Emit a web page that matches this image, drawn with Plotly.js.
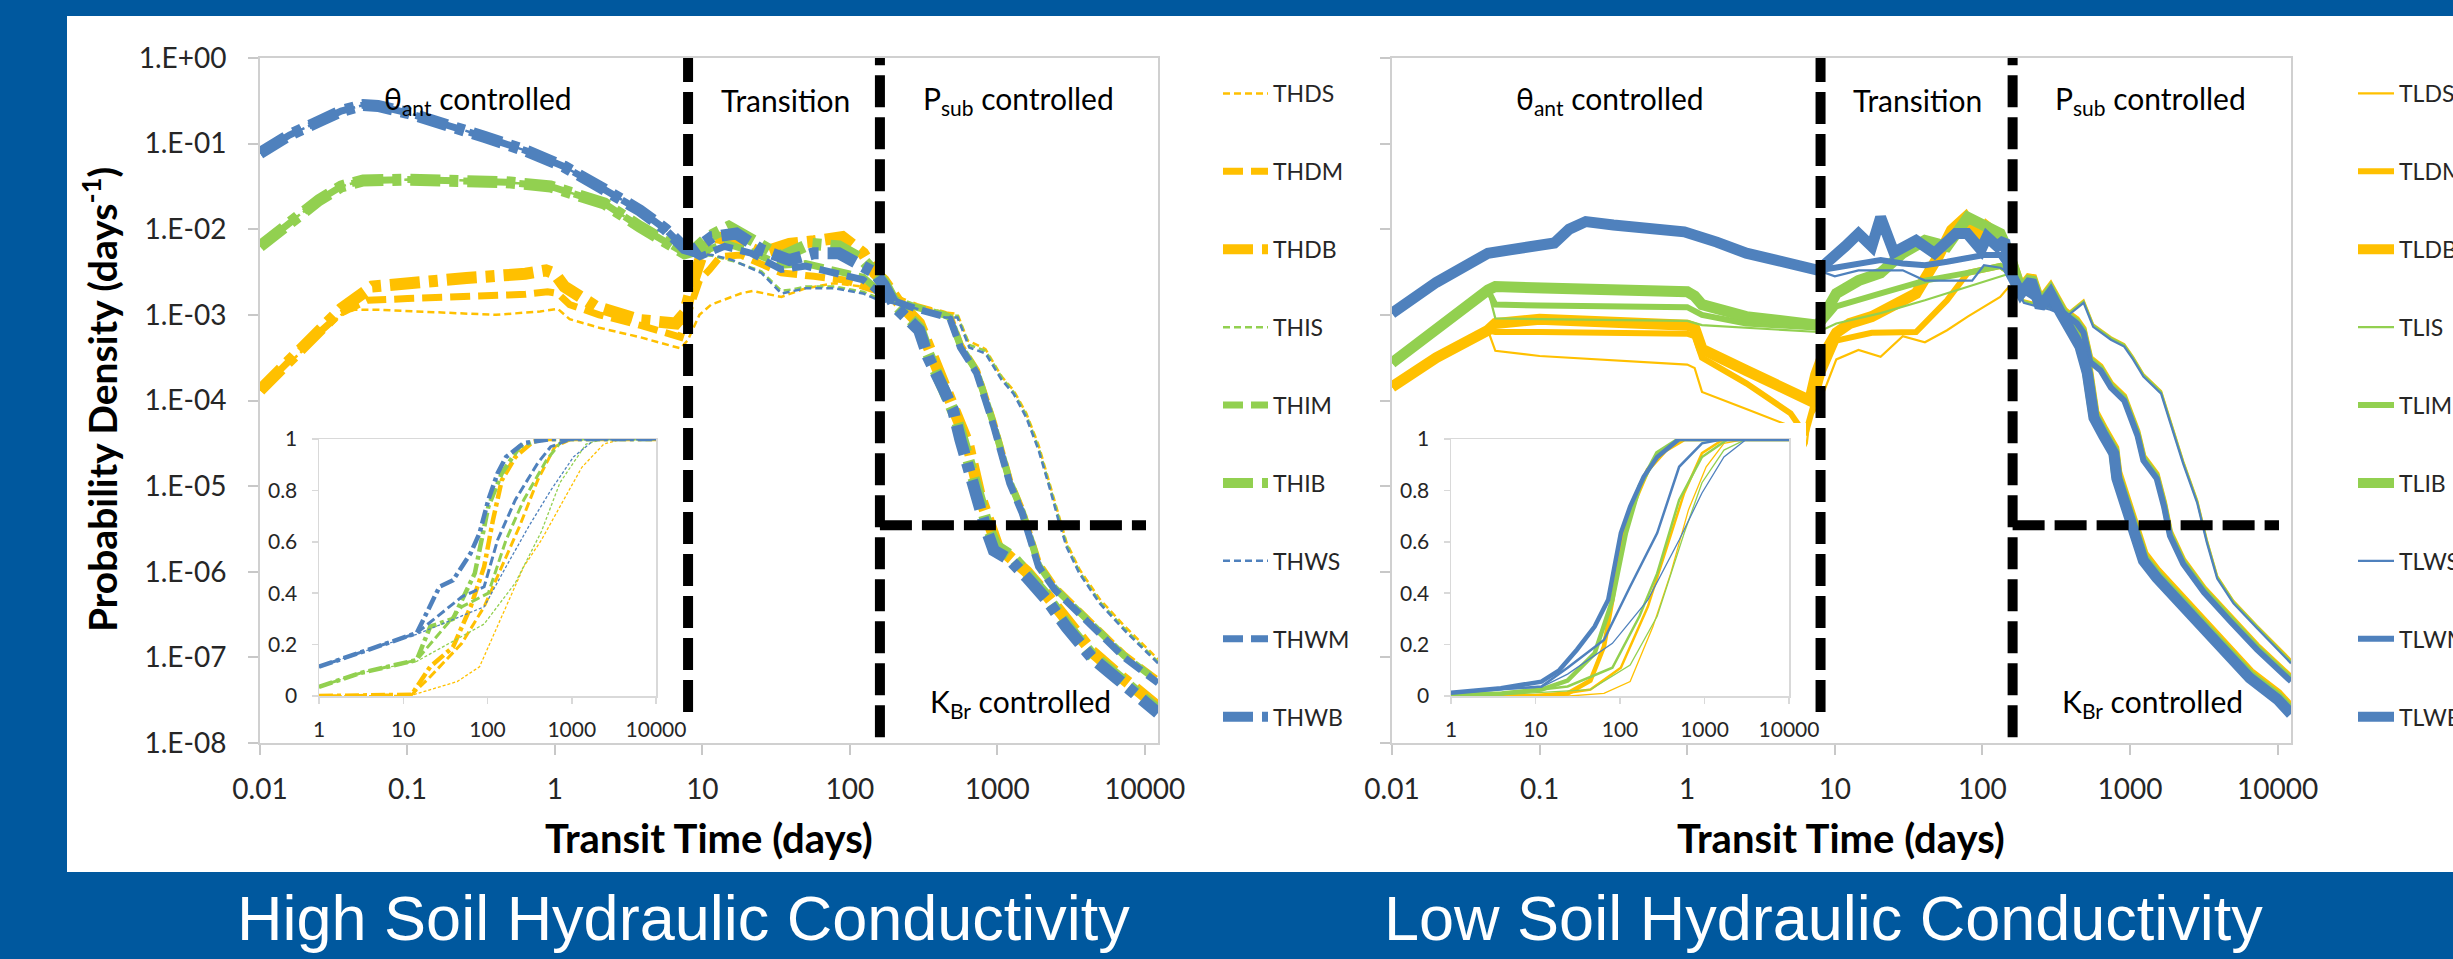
<!DOCTYPE html>
<html><head><meta charset="utf-8">
<script src="https://cdn.plot.ly/plotly-3.0.1.min.js"></script>
<style>html,body{margin:0;padding:0;background:#00589e;}#chart{width:2453px;height:959px;}</style>
</head><body><div id="chart"></div>
<script>
// ---------- DATA : [log10(transit time, days), log10(probability density, 1/days)] ----------
// High soil hydraulic conductivity (left panel)
const HW_theta = [[-2,-1.11],[-1.8,-0.90],[-1.6,-0.74],[-1.45,-0.62],[-1.3,-0.55],[-1.2,-0.56],[-1.0,-0.64],[-0.8,-0.74],[-0.48,-0.92],[-0.2,-1.08],[0.064,-1.27],[0.3,-1.5],[0.576,-1.78],[0.75,-2.0],[0.88,-2.22]];
const HI_theta = [[-2,-2.2],[-1.8,-1.92],[-1.6,-1.66],[-1.45,-1.5],[-1.3,-1.43],[-1.0,-1.42],[-0.6,-1.43],[-0.33,-1.45],[-0.03,-1.5],[0.336,-1.7],[0.576,-1.97],[0.88,-2.28]];
const THDS = [[-2,-3.88],[-1.7,-3.40],[-1.45,-3.0],[-1.36,-2.94],[-1.2,-2.94],[-0.8,-2.97],[-0.4,-3.0],[-0.1,-2.96],[0.02,-2.93],[0.1,-3.05],[0.3,-3.15],[0.576,-3.26],[0.85,-3.39],[0.9,-3.3],[0.98,-3.0],[1.06,-2.88],[1.15,-2.82],[1.26,-2.75],[1.34,-2.72],[1.45,-2.76],[1.536,-2.79],[1.70,-2.69],[1.896,-2.63],[2.09,-2.67],[2.2,-2.75],[2.3,-2.82],[2.45,-2.9],[2.645,-2.97],[2.73,-2.99],[2.8,-3.3],[2.92,-3.4],[3.03,-3.72],[3.11,-3.88],[3.197,-4.15],[3.28,-4.52],[3.36,-5.0],[3.42,-5.38],[3.47,-5.66],[3.557,-5.97],[3.695,-6.32],[3.86,-6.63],[4.09,-7.02]];
const THDM = [[-2,-3.88],[-1.7,-3.36],[-1.45,-2.98],[-1.27,-2.83],[-1.0,-2.81],[-0.6,-2.79],[-0.2,-2.76],[-0.05,-2.73],[0.02,-2.75],[0.1,-2.88],[0.3,-3.0],[0.576,-3.12],[0.85,-3.26],[0.92,-2.9],[0.98,-2.6],[1.05,-2.47],[1.12,-2.32],[1.26,-2.3],[1.4,-2.4],[1.536,-2.51],[1.756,-2.55],[1.95,-2.59],[2.17,-2.71],[2.29,-2.8],[2.45,-2.9],[2.64,-2.99],[2.68,-3.02],[2.75,-3.35],[2.86,-3.65],[2.92,-3.97],[2.976,-4.27],[3.085,-4.94],[3.17,-5.29],[3.225,-5.6],[3.28,-5.9],[3.39,-6.18],[3.53,-6.42],[3.69,-6.69],[3.86,-6.97],[4.09,-7.27]];
const THDB = [[-2,-3.88],[-1.7,-3.36],[-1.45,-2.93],[-1.24,-2.67],[-1.0,-2.62],[-0.6,-2.57],[-0.2,-2.52],[-0.06,-2.48],[0.0,-2.52],[0.064,-2.67],[0.276,-2.9],[0.576,-3.06],[0.82,-3.1],[0.88,-2.98],[0.94,-2.59],[1.0,-2.28],[1.09,-2.09],[1.23,-2.14],[1.40,-2.28],[1.59,-2.17],[1.756,-2.14],[1.95,-2.09],[2.09,-2.28],[2.17,-2.51],[2.23,-2.6],[2.33,-2.85],[2.47,-3.1],[2.55,-3.45],[2.64,-3.8],[2.72,-4.1],[2.8,-4.5],[2.88,-5.1],[2.95,-5.5],[3.0,-5.7],[3.1,-5.85],[3.2,-6.0],[3.34,-6.28],[3.47,-6.58],[3.64,-6.93],[3.8,-7.17],[3.94,-7.37],[4.09,-7.58]];
const THIS = HI_theta.concat([[0.94,-2.29],[1.065,-2.31],[1.205,-2.37],[1.40,-2.49],[1.536,-2.72],[1.62,-2.7],[1.70,-2.67],[1.896,-2.67],[2.09,-2.73],[2.2,-2.81],[2.42,-2.89],[2.645,-3.01],[2.73,-3.01],[2.81,-3.35],[2.92,-3.42],[3.03,-3.73],[3.11,-3.9],[3.197,-4.17],[3.28,-4.55],[3.36,-5.02],[3.42,-5.4],[3.47,-5.68],[3.557,-6.0],[3.695,-6.35],[3.86,-6.66],[4.09,-7.05]]);
const THIM = HI_theta.concat([[0.983,-2.28],[1.15,-2.16],[1.33,-2.26],[1.536,-2.42],[1.70,-2.4],[1.896,-2.47],[2.09,-2.56],[2.17,-2.68],[2.2,-2.73],[2.29,-2.81],[2.45,-2.91],[2.64,-3.0],[2.68,-3.03],[2.75,-3.36],[2.86,-3.66],[2.92,-3.98],[2.976,-4.28],[3.085,-4.95],[3.17,-5.3],[3.225,-5.61],[3.28,-5.92],[3.39,-6.19],[3.53,-6.43],[3.69,-6.7],[3.86,-6.98],[4.09,-7.28]]);
const THIB = HI_theta.concat([[0.94,-2.25],[1.04,-2.09],[1.18,-1.97],[1.34,-2.14],[1.536,-2.32],[1.73,-2.17],[1.925,-2.2],[2.09,-2.36],[2.17,-2.51],[2.23,-2.62],[2.31,-2.88],[2.47,-3.15],[2.53,-3.45],[2.64,-3.85],[2.72,-4.2],[2.78,-4.55],[2.87,-5.15],[2.93,-5.45],[2.99,-5.7],[3.1,-5.82],[3.2,-6.02],[3.34,-6.3],[3.47,-6.62],[3.64,-6.97],[3.8,-7.2],[3.94,-7.4],[4.09,-7.62]]);
const THWS = HW_theta.concat([[0.94,-2.28],[1.065,-2.30],[1.205,-2.36],[1.40,-2.51],[1.536,-2.75],[1.62,-2.72],[1.70,-2.69],[1.896,-2.69],[2.09,-2.75],[2.2,-2.83],[2.42,-2.91],[2.645,-3.03],[2.73,-3.03],[2.81,-3.38],[2.92,-3.45],[3.03,-3.76],[3.11,-3.92],[3.197,-4.2],[3.28,-4.58],[3.36,-5.05],[3.42,-5.43],[3.47,-5.71],[3.557,-6.02],[3.695,-6.37],[3.86,-6.68],[4.09,-7.07]]);
const THWM = HW_theta.concat([[0.983,-2.32],[1.15,-2.2],[1.33,-2.28],[1.536,-2.47],[1.70,-2.43],[1.896,-2.51],[2.09,-2.59],[2.17,-2.7],[2.2,-2.75],[2.29,-2.83],[2.45,-2.93],[2.64,-3.02],[2.68,-3.05],[2.75,-3.38],[2.86,-3.68],[2.92,-4.0],[2.976,-4.3],[3.085,-4.97],[3.17,-5.32],[3.225,-5.63],[3.28,-5.94],[3.39,-6.21],[3.53,-6.45],[3.69,-6.72],[3.86,-7.0],[4.09,-7.30]]);
const THWB = HW_theta.concat([[0.94,-2.25],[1.0,-2.15],[1.065,-2.09],[1.23,-2.05],[1.40,-2.24],[1.59,-2.36],[1.756,-2.28],[1.925,-2.28],[2.09,-2.44],[2.17,-2.51],[2.23,-2.65],[2.31,-2.91],[2.47,-3.18],[2.53,-3.49],[2.64,-3.88],[2.70,-4.11],[2.75,-4.46],[2.86,-5.16],[2.92,-5.48],[2.976,-5.75],[3.085,-5.86],[3.197,-6.06],[3.336,-6.33],[3.47,-6.65],[3.64,-7.0],[3.80,-7.23],[3.94,-7.42],[4.09,-7.65]]);

// Low soil hydraulic conductivity (right panel)
const LW_theta = [[-2,-2.98],[-1.7,-2.62],[-1.35,-2.28],[-1.1,-2.2],[-0.9,-2.16],[-0.8,-2.0],[-0.687,-1.91],[-0.5,-1.95],[-0.2,-2.0],[-0.02,-2.03],[0.2,-2.15],[0.4,-2.28],[0.6,-2.36],[0.887,-2.48]];
const LI_rise = [[-2,-3.56],[-1.7,-3.15],[-1.35,-2.71]];
const LD_rise = [[-2,-3.84],[-1.7,-3.5],[-1.35,-3.18]];
const TLDS = LD_rise.concat([[-1.3,-3.42],[-1.0,-3.48],[-0.5,-3.53],[0.0,-3.58],[0.05,-3.62],[0.1,-3.9],[0.4,-4.1],[0.7,-4.3],[0.78,-4.6],[0.81,-4.5],[0.83,-4.2],[0.887,-4.07],[1.01,-3.52],[1.16,-3.41],[1.31,-3.49],[1.46,-3.25],[1.61,-3.32],[1.76,-3.18],[1.9,-3.02],[2.01,-2.9],[2.12,-2.79],[2.18,-2.67],[2.28,-2.83],[2.46,-2.91],[2.57,-2.99],[2.685,-2.83],[2.75,-3.11],[2.87,-3.26],[2.96,-3.34],[3.02,-3.49],[3.09,-3.69],[3.21,-3.89],[3.27,-4.22],[3.36,-4.71],[3.455,-5.17],[3.52,-5.63],[3.59,-6.05],[3.70,-6.34],[3.86,-6.63],[4.09,-7.03]]);
const TLDM = LD_rise.concat([[-1.3,-3.2],[-1.0,-3.2],[-0.5,-3.21],[0.0,-3.22],[0.05,-3.25],[0.1,-3.5],[0.4,-3.8],[0.7,-4.15],[0.8,-4.4],[0.85,-4.1],[0.915,-3.68],[1.01,-3.3],[1.25,-3.21],[1.55,-3.2],[1.76,-2.83],[1.9,-2.51],[2.12,-2.43],[2.18,-2.5],[2.26,-2.66],[2.4,-2.81],[2.53,-2.91],[2.64,-3.05],[2.685,-3.16],[2.73,-3.5],[2.80,-3.6],[2.87,-3.8],[2.96,-3.95],[3.05,-4.36],[3.09,-4.65],[3.18,-4.86],[3.23,-5.19],[3.27,-5.53],[3.36,-5.86],[3.5,-6.19],[3.68,-6.53],[3.86,-6.86],[4.09,-7.23]]);
const TLDB = LD_rise.concat([[-1.3,-3.1],[-1.0,-3.05],[-0.5,-3.08],[0.0,-3.12],[0.05,-3.15],[0.1,-3.4],[0.4,-3.65],[0.83,-4.0],[0.87,-3.7],[0.915,-3.49],[1.01,-3.21],[1.10,-3.1],[1.25,-3.02],[1.40,-2.9],[1.55,-2.75],[1.70,-2.32],[1.79,-2.01],[1.885,-1.86],[1.98,-2.13],[2.03,-1.97],[2.12,-2.09],[2.18,-2.3],[2.26,-2.7],[2.33,-2.55],[2.39,-2.86],[2.46,-2.7],[2.53,-2.93],[2.6,-3.16],[2.66,-3.32],[2.71,-3.62],[2.755,-4.14],[2.82,-4.35],[2.89,-4.56],[2.91,-4.84],[2.96,-5.09],[3.0,-5.34],[3.05,-5.59],[3.09,-5.8],[3.18,-6.0],[3.32,-6.26],[3.455,-6.51],[3.63,-6.85],[3.81,-7.18],[3.998,-7.43],[4.09,-7.6]]);
const TLIS = LI_rise.concat([[-1.3,-3.04],[-1.0,-3.05],[-0.5,-3.06],[0.0,-3.07],[0.1,-3.12],[0.4,-3.15],[0.887,-3.2],[1.01,-3.1],[1.31,-2.98],[1.61,-2.83],[1.9,-2.67],[2.12,-2.55],[2.18,-2.52],[2.28,-2.84],[2.46,-2.92],[2.57,-3.0],[2.685,-2.84],[2.75,-3.12],[2.87,-3.27],[2.96,-3.35],[3.02,-3.5],[3.09,-3.7],[3.21,-3.9],[3.27,-4.23],[3.36,-4.72],[3.455,-5.18],[3.52,-5.64],[3.59,-6.06],[3.70,-6.35],[3.86,-6.64],[4.09,-7.05]]);
const TLIM = LI_rise.concat([[-1.3,-2.88],[-1.0,-2.89],[-0.5,-2.9],[0.0,-2.91],[0.1,-3.0],[0.4,-3.1],[0.887,-3.15],[1.01,-2.9],[1.31,-2.75],[1.61,-2.6],[1.9,-2.51],[2.12,-2.43],[2.18,-2.5],[2.26,-2.68],[2.4,-2.83],[2.53,-2.93],[2.64,-3.07],[2.685,-3.18],[2.73,-3.52],[2.80,-3.62],[2.87,-3.82],[2.96,-3.97],[3.05,-4.38],[3.09,-4.67],[3.18,-4.88],[3.23,-5.21],[3.27,-5.55],[3.36,-5.88],[3.5,-6.21],[3.68,-6.55],[3.86,-6.88],[4.09,-7.25]]);
const TLIB = LI_rise.concat([[-1.3,-2.67],[-1.0,-2.68],[-0.5,-2.7],[0.0,-2.73],[0.05,-2.78],[0.1,-2.88],[0.4,-3.02],[0.887,-3.12],[1.01,-2.75],[1.16,-2.6],[1.31,-2.51],[1.46,-2.28],[1.61,-2.13],[1.76,-2.2],[1.9,-1.86],[2.01,-1.97],[2.12,-2.05],[2.18,-2.28],[2.26,-2.72],[2.33,-2.57],[2.39,-2.88],[2.46,-2.72],[2.53,-2.95],[2.6,-3.18],[2.66,-3.34],[2.71,-3.65],[2.755,-4.17],[2.82,-4.38],[2.89,-4.59],[2.91,-4.88],[2.96,-5.13],[3.0,-5.38],[3.05,-5.63],[3.09,-5.84],[3.18,-6.04],[3.32,-6.3],[3.455,-6.55],[3.63,-6.88],[3.81,-7.21],[3.998,-7.46],[4.09,-7.63]]);
const TLWS = LW_theta.concat([[1.0,-2.55],[1.16,-2.48],[1.46,-2.48],[1.61,-2.6],[1.93,-2.6],[2.01,-2.42],[2.12,-2.45],[2.18,-2.5],[2.28,-2.86],[2.46,-2.94],[2.57,-3.02],[2.685,-2.86],[2.75,-3.14],[2.87,-3.29],[2.96,-3.37],[3.02,-3.52],[3.09,-3.72],[3.21,-3.92],[3.27,-4.25],[3.36,-4.74],[3.455,-5.2],[3.52,-5.66],[3.59,-6.08],[3.70,-6.37],[3.86,-6.66],[4.09,-7.07]]);
const TLWM = LW_theta.concat([[1.0,-2.45],[1.16,-2.4],[1.31,-2.36],[1.46,-2.4],[1.61,-2.42],[1.76,-2.38],[1.9,-2.33],[2.01,-2.3],[2.12,-2.3],[2.18,-2.45],[2.26,-2.7],[2.4,-2.85],[2.53,-2.95],[2.64,-3.1],[2.685,-3.21],[2.73,-3.55],[2.80,-3.65],[2.87,-3.85],[2.96,-4.0],[3.05,-4.41],[3.09,-4.7],[3.18,-4.91],[3.23,-5.24],[3.27,-5.58],[3.36,-5.91],[3.5,-6.24],[3.68,-6.58],[3.86,-6.91],[4.09,-7.28]]);
const TLWB = LW_theta.concat([[1.07,-2.2],[1.16,-2.05],[1.25,-2.2],[1.31,-1.86],[1.40,-2.27],[1.55,-2.13],[1.675,-2.28],[1.82,-2.05],[1.896,-2.05],[1.99,-2.24],[2.03,-2.09],[2.10,-2.2],[2.15,-2.13],[2.18,-2.48],[2.26,-2.75],[2.33,-2.6],[2.39,-2.91],[2.46,-2.75],[2.53,-2.98],[2.60,-3.21],[2.66,-3.37],[2.71,-3.68],[2.755,-4.2],[2.82,-4.41],[2.89,-4.62],[2.91,-4.91],[2.96,-5.16],[3.0,-5.41],[3.05,-5.66],[3.09,-5.87],[3.18,-6.07],[3.32,-6.33],[3.455,-6.58],[3.63,-6.91],[3.81,-7.24],[3.998,-7.49],[4.09,-7.66]]);

// Inset CDFs: [log10(transit time, days), cumulative fraction]
const cTHDS = [[0,0],[1.1,0.003],[1.64,0.056],[1.906,0.114],[2.17,0.31],[2.43,0.503],[2.64,0.607],[2.86,0.737],[3.12,0.89],[3.38,0.98],[3.6,1.0],[4,1.0]];
const cTHDM = [[0,0],[1.1,0.005],[1.32,0.075],[1.695,0.205],[1.96,0.347],[2.17,0.503],[2.38,0.66],[2.596,0.84],[2.8,0.97],[3.0,1.0],[4,1.0]];
const cTHDB = [[0,0],[1.1,0.005],[1.32,0.114],[1.59,0.19],[1.80,0.347],[1.96,0.503],[2.065,0.685],[2.17,0.84],[2.33,0.93],[2.54,0.99],[2.7,1.0],[4,1.0]];
const cTHIS = [[0,0.036],[0.5,0.09],[1.16,0.135],[1.695,0.23],[1.96,0.28],[2.33,0.44],[2.64,0.64],[2.86,0.83],[3.17,0.98],[3.38,1.0],[4,1.0]];
const cTHIM = [[0,0.036],[0.5,0.09],[1.16,0.14],[1.695,0.347],[2.01,0.40],[2.22,0.607],[2.43,0.763],[2.70,0.918],[2.9,1.0],[4,1.0]];
const cTHIB = [[0,0.036],[0.5,0.09],[1.16,0.14],[1.32,0.27],[1.59,0.30],[1.85,0.478],[2.01,0.737],[2.17,0.867],[2.38,0.97],[2.64,1.0],[4,1.0]];
const cTHWS = [[0,0.114],[0.5,0.17],[1.16,0.24],[1.96,0.347],[2.22,0.503],[2.49,0.66],[2.75,0.80],[3.02,0.93],[3.28,1.0],[4,1.0]];
const cTHWM = [[0,0.114],[0.5,0.17],[1.16,0.245],[1.695,0.386],[1.96,0.425],[2.12,0.607],[2.33,0.763],[2.596,0.906],[2.75,0.97],[3.0,1.0],[4,1.0]];
const cTHWB = [[0,0.114],[0.5,0.17],[1.16,0.245],[1.43,0.425],[1.59,0.45],[1.80,0.556],[1.906,0.634],[2.01,0.763],[2.12,0.867],[2.22,0.93],[2.43,0.984],[2.75,1.0],[4,1.0]];
const cTLDS = [[0,0],[1.4,0.0],[1.81,0.01],[2.12,0.056],[2.39,0.27],[2.6,0.477],[2.81,0.724],[3.02,0.892],[3.23,0.983],[3.5,1.0],[4,1.0]];
const cTLDM = [[0,0],[1.2,0.003],[1.65,0.025],[2.01,0.11],[2.33,0.348],[2.54,0.568],[2.76,0.79],[2.97,0.945],[3.23,1.0],[4,1.0]];
const cTLDB = [[0,0],[1.0,0.0],[1.38,0.01],[1.65,0.06],[1.81,0.192],[1.91,0.374],[2.01,0.594],[2.18,0.763],[2.33,0.88],[2.54,0.957],[2.76,1.0],[4,1.0]];
const cTLIS = [[0,0.003],[0.6,0.005],[1.65,0.025],[2.12,0.12],[2.44,0.31],[2.76,0.634],[2.97,0.83],[3.23,0.957],[3.5,1.0],[4,1.0]];
const cTLIM = [[0,0.005],[0.6,0.008],[1.38,0.037],[1.91,0.11],[2.23,0.31],[2.44,0.477],[2.70,0.763],[2.97,0.93],[3.28,1.0],[4,1.0]];
const cTLIB = [[0,0.005],[0.6,0.01],[1.07,0.025],[1.38,0.06],[1.70,0.166],[1.91,0.374],[2.07,0.634],[2.23,0.815],[2.44,0.945],[2.70,1.0],[4,1.0]];
const cTLWS = [[0,0.013],[0.59,0.025],[1.07,0.035],[1.38,0.085],[1.91,0.205],[2.33,0.374],[2.70,0.607],[2.97,0.79],[3.23,0.93],[3.5,1.0],[4,1.0]];
const cTLWM = [[0,0.013],[0.59,0.025],[1.07,0.037],[1.38,0.11],[1.81,0.218],[2.12,0.426],[2.44,0.634],[2.70,0.892],[2.97,0.983],[3.23,1.0],[4,1.0]];
const cTLWB = [[0,0.013],[0.59,0.03],[1.07,0.056],[1.28,0.10],[1.49,0.18],[1.70,0.27],[1.86,0.374],[2.01,0.634],[2.12,0.737],[2.28,0.853],[2.44,0.93],[2.70,1.0],[4,1.0]];

const HIGH_NAMES = ['THDS','THDM','THDB','THIS','THIM','THIB','THWS','THWM','THWB'];
const LOW_NAMES  = ['TLDS','TLDM','TLDB','TLIS','TLIM','TLIB','TLWS','TLWM','TLWB'];
const HIGH_PDF = [THDS,THDM,THDB,THIS,THIM,THIB,THWS,THWM,THWB];
const LOW_PDF  = [TLDS,TLDM,TLDB,TLIS,TLIM,TLIB,TLWS,TLWM,TLWB];
const HIGH_CDF = [cTHDS,cTHDM,cTHDB,cTHIS,cTHIM,cTHIB,cTHWS,cTHWM,cTHWB];
const LOW_CDF  = [cTLDS,cTLDM,cTLDB,cTLIS,cTLIM,cTLIB,cTLWS,cTLWM,cTLWB];

const X_TICKS = [0.01,0.1,1,10,100,1000,10000];
const X_TICKTEXT = ['0.01','0.1','1','10','100','1000','10000'];
const Y_TICKS = [1e-8,1e-7,1e-6,1e-5,1e-4,1e-3,1e-2,1e-1,1];
const Y_TICKTEXT = ['1.E-08','1.E-07','1.E-06','1.E-05','1.E-04','1.E-03','1.E-02','1.E-01','1.E+00'];
const INSET_X_TICKS = [1,10,100,1000,10000];
const INSET_X_TEXT = ['1','10','100','1000','10000'];
const INSET_Y_TICKS = [0,0.2,0.4,0.6,0.8,1];
const INSET_Y_TEXT = ['0','0.2','0.4','0.6','0.8','1'];

// regime boundaries (days) and K_Br threshold
const REGIME_EDGES = [8, 160];
const KBR_LEVEL = 3.5e-6;
const KBR_END = 10200;

// ---------- STYLES ----------
const W = 2453, H = 959;
const fx = v => v / W, fy = v => 1 - v / H;
const COLORS = {D:'#FFC000', I:'#92D050', W:'#4F81BD'};
const STY_HIGH  = {S:{width:2.5,dash:'7px,4px'}, M:{width:7,dash:'20px,8px'}, B:{width:12,dash:'30px,9px,9px,9px'}};
const STY_LOW   = {S:{width:2.2,dash:'solid'}, M:{width:6,dash:'solid'}, B:{width:11,dash:'solid'}};
const STY_HIGHI = {S:{width:1.3,dash:'3px,2px'}, M:{width:3,dash:'9px,4px'}, B:{width:4.5,dash:'14px,4px,4px,4px'}};
const STY_LOWI  = {S:{width:1.3,dash:'solid'}, M:{width:2.5,dash:'solid'}, B:{width:4.5,dash:'solid'}};
const FONT = 'Lato, "Open Sans", sans-serif';
const TXT = '#262626';
const P = v => Math.pow(10, v);

function traces(names, sets, xa, ya, sty, legend, show, isCdf) {
  return names.map((n, i) => ({
    type:'scatter', mode:'lines', name:n,
    x: sets[i].map(d => P(d[0])),
    y: sets[i].map(d => isCdf ? d[1] : P(d[1])),
    xaxis:xa, yaxis:ya, legend:legend, legendgroup: show ? n : undefined, showlegend:show,
    line:{color:COLORS[n[2]], width:sty[n[3]].width, dash:sty[n[3]].dash},
    hoverinfo:'skip'
  }));
}

const data = [].concat(
  traces(HIGH_NAMES, HIGH_PDF, 'x', 'y', STY_HIGH, 'legend', true, false),
  traces(LOW_NAMES, LOW_PDF, 'x2', 'y2', STY_LOW, 'legend2', true, false),
  [{type:'scatter', mode:'lines', x:[], y:[], xaxis:'x3', yaxis:'y3', showlegend:false, hoverinfo:'skip'}],
  traces(HIGH_NAMES, HIGH_CDF, 'x4', 'y4', STY_HIGHI, 'legend', false, true),
  traces(LOW_NAMES, LOW_CDF, 'x5', 'y5', STY_LOWI, 'legend', false, true)
);

function mainX(px, anchor) {
  return {domain:[fx(px[0]), fx(px[1])], anchor, type:'log', range:[-2, 4.09],
    tickvals:X_TICKS, ticktext:X_TICKTEXT, ticks:'outside', ticklen:10, tickwidth:2, tickcolor:'#c8c8c8',
    showline:true, mirror:true, linecolor:'#d0d0d0', linewidth:2, showgrid:false, zeroline:false,
    tickfont:{family:FONT, size:28, color:TXT}, ticklabelstandoff:10, fixedrange:true};
}
function mainY(anchor, labels) {
  return {domain:[fy(743), fy(58)], anchor, type:'log', range:[-8, 0],
    tickvals:Y_TICKS, ticktext:Y_TICKTEXT, showticklabels:labels, ticks:'outside', ticklen:10, tickwidth:2, tickcolor:'#c8c8c8',
    showline:true, mirror:true, linecolor:'#d0d0d0', linewidth:2, showgrid:false, zeroline:false,
    tickfont:{family:FONT, size:28, color:TXT}, ticklabelstandoff:16, fixedrange:true};
}
function insetX(px, anchor) {
  return {domain:[fx(px[0]), fx(px[1])], anchor, type:'log', range:[0, 4],
    tickvals:INSET_X_TICKS, ticktext:INSET_X_TEXT, ticks:'outside', ticklen:6, tickwidth:1.5, tickcolor:'#d9d9d9',
    showline:true, mirror:true, linecolor:'#d9d9d9', linewidth:1.5, showgrid:false, zeroline:false,
    tickfont:{family:FONT, size:21, color:TXT}, ticklabelstandoff:8, fixedrange:true};
}
function insetY(anchor) {
  return {domain:[fy(696), fy(439)], anchor, range:[0, 1],
    tickvals:INSET_Y_TICKS, ticktext:INSET_Y_TEXT, ticks:'outside', ticklen:6, tickwidth:1.5, tickcolor:'#d9d9d9',
    showline:true, mirror:true, linecolor:'#d9d9d9', linewidth:1.5, showgrid:false, zeroline:false,
    tickfont:{family:FONT, size:21, color:TXT}, ticklabelstandoff:10, fixedrange:true};
}

function regimeShapes(xr, yr) {
  const ln = {color:'#000', width:10, dash:'32px,10px'};
  return [
    {type:'line', xref:xr, yref:yr, x0:REGIME_EDGES[0], x1:REGIME_EDGES[0], y0:2.3e-8, y1:1, line:ln, layer:'above'},
    {type:'line', xref:xr, yref:yr, x0:REGIME_EDGES[1], x1:REGIME_EDGES[1], y0:1.17e-8, y1:1, line:ln, layer:'above'},
    {type:'line', xref:xr, yref:yr, x0:REGIME_EDGES[1], x1:KBR_END, y0:KBR_LEVEL, y1:KBR_LEVEL, line:ln, layer:'above'}
  ];
}

function ann(text, x, y, size, extra) {
  return Object.assign({text, x:fx(x), y:fy(y), xref:'paper', yref:'paper', showarrow:false,
    xanchor:'center', yanchor:'middle', font:{family:FONT, size, color:'#000'}}, extra || {});
}
const OFF = 1392 - 260;
const annotations = [];
[0, OFF].forEach(o => {
  annotations.push(ann('θ<sub>ant</sub> controlled', 478 + o, 100, 30));
  annotations.push(ann('Transition', 785 + o, 100, 30));
  annotations.push(ann('P<sub>sub</sub> controlled', 1018 + o, 100, 30));
  annotations.push(ann('K<sub>Br</sub> controlled', 1020 + o, 703, 30));
  annotations.push(ann('<b>Transit Time (days)</b>', 709 + o, 838, 40));
});
annotations.push(ann('<b>Probability Density (days<sup>-1</sup>)</b>', 100, 400, 39, {textangle:-90}));
annotations.push(ann('High Soil Hydraulic Conductivity', 683, 918, 63, {font:{family:'"Liberation Sans", Arial, sans-serif', size:63, color:'#ffffff'}}));
annotations.push(ann('Low Soil Hydraulic Conductivity', 1823, 918, 63, {font:{family:'"Liberation Sans", Arial, sans-serif', size:63, color:'#ffffff'}}));

const layout = {
  width:W, height:H,
  margin:{l:0, r:0, t:0, b:0, autoexpand:false},
  paper_bgcolor:'#00589e', plot_bgcolor:'#ffffff',
  font:{family:FONT, color:TXT},
  xaxis: mainX([260,1158], 'y'),
  yaxis: mainY('x', true),
  xaxis2: mainX([1392,2291], 'y2'),
  yaxis2: mainY('x2', false),
  xaxis3: {domain:[fx(1400), fx(1806)], anchor:'y3', visible:false, showgrid:false, zeroline:false, range:[0,1]},
  yaxis3: {domain:[fy(735), fy(423)], anchor:'x3', visible:false, showgrid:false, zeroline:false, range:[0,1]},
  xaxis4: insetX([319,656], 'y4'),
  yaxis4: insetY('x4'),
  xaxis5: insetX([1451,1789], 'y5'),
  yaxis5: insetY('x5'),
  legend: {x:fx(1218), xanchor:'left', y:fy(72), yanchor:'top', bgcolor:'rgba(0,0,0,0)', borderwidth:0,
           font:{family:FONT, size:23, color:TXT}, itemwidth:45, traceorder:'grouped', tracegroupgap:45},
  legend2:{x:fx(2353), xanchor:'left', y:fy(72), yanchor:'top', bgcolor:'rgba(0,0,0,0)', borderwidth:0,
           font:{family:FONT, size:23, color:TXT}, itemwidth:36, traceorder:'grouped', tracegroupgap:45},
  shapes: [{type:'rect', xref:'paper', yref:'paper', x0:fx(67), x1:1.01, y0:fy(872), y1:fy(16),
            fillcolor:'#ffffff', line:{width:0}, layer:'below'}]
          .concat(regimeShapes('x','y'), regimeShapes('x2','y2')),
  annotations
};

Plotly.newPlot('chart', data, layout, {staticPlot:true, displayModeBar:false});
</script></body></html>
